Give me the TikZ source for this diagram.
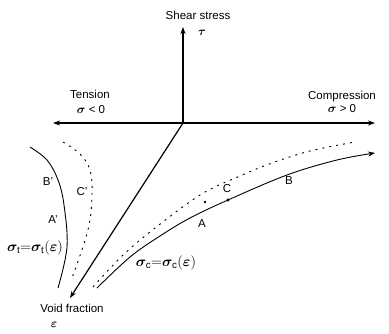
\documentclass[tikz,border=0pt]{standalone}
\usepackage{amsmath,amssymb,bm}
\usepackage{fontspec}
\setmainfont{Liberation Sans}
\usetikzlibrary{arrows.meta,positioning}

\begin{document}
\begin{tikzpicture}[x=1pt, y=-1pt, >={Stealth[length=7pt,width=5pt]},
    axis/.style={line width=1.2pt, ->},
    curve/.style={line width=0.9pt},
    dotcurve/.style={line width=0.9pt, dash pattern=on 2pt off 5pt},
    lbl/.style={font=\fontsize{11.5}{13}\selectfont, inner sep=0.5pt},
    eqn/.style={font=\fontsize{14}{16}\selectfont, inner sep=0.5pt}]
  \useasboundingbox (0,0) rectangle (389,333);
  % axes
  \coordinate (O) at (183,123);
  \coordinate (tauend) at (183,27);
  \coordinate (tensend) at (53,123);
  \coordinate (compend) at (375,123);
  \coordinate (voidend) at (70,298);
  \draw[axis] (O) -- (tauend);
  \draw[axis] (O) -- (tensend);
  \draw[axis] (O) -- (compend);
  \draw[axis] (O) -- (voidend);
  \node[lbl] (shear) at (198,15) {Shear stress};
  \node[lbl] (tau) at (202,33) {$\bm{\tau}$};
  \node[lbl] (tension) at (90,94) {Tension};
  \node[lbl] (signeg) at (91,110) {$\bm{\sigma}$ < 0};
  \node[lbl] (compression) at (342,97) {Compression};
  \node[lbl] (sigpos) at (342,109) {$\bm{\sigma}$ > 0};
  \node[lbl] (void) at (72,308) {Void fraction};
  \node[lbl] (eps) at (54,325) {$\bm{\varepsilon}$};
  % compression branch
  \draw[curve, ->] plot[smooth, tension=0.6] coordinates {(97,288) (130,257) (160,236) (190,218) (228,200) (287,175) (337,160) (375,153)};
  \draw[dotcurve] plot[smooth, tension=0.6] coordinates {(93,287) (120,258) (150,232) (200,195) (240,176) (272,163) (310,151) (355,142)};
  \filldraw (228,200) circle (1.3pt);
  \filldraw (205,202) circle (1.1pt);
  \node[lbl] (ptA) at (202,224) {A};
  \node[lbl] (ptC) at (227,189) {C};
  \node[lbl] (ptB) at (289,181) {B};
  \node[eqn] (sigc) at (166,263) {$\bm{\sigma}_{\mathrm{c}}{=}\bm{\sigma}_{\mathrm{c}}(\bm{\varepsilon})$};
  % tension branch
  \draw[curve] plot[smooth, tension=0.6] coordinates {(30,147) (47,160) (58,180) (64,205) (67,247) (58,288)};
  \draw[dotcurve] plot[smooth, tension=0.6] coordinates {(63,142) (80,154) (90,170) (92,195) (88,230) (72,278)};
  \node[lbl] (ptBp) at (48,182) {B'};
  \node[lbl] (ptCp) at (82,192) {C'};
  \node[lbl] (ptAp) at (53,220) {A'};
  \node[eqn] (sigt) at (35,248) {$\bm{\sigma}_{\mathrm{t}}{=}\bm{\sigma}_{\mathrm{t}}(\bm{\varepsilon})$};
\end{tikzpicture}
\end{document}
